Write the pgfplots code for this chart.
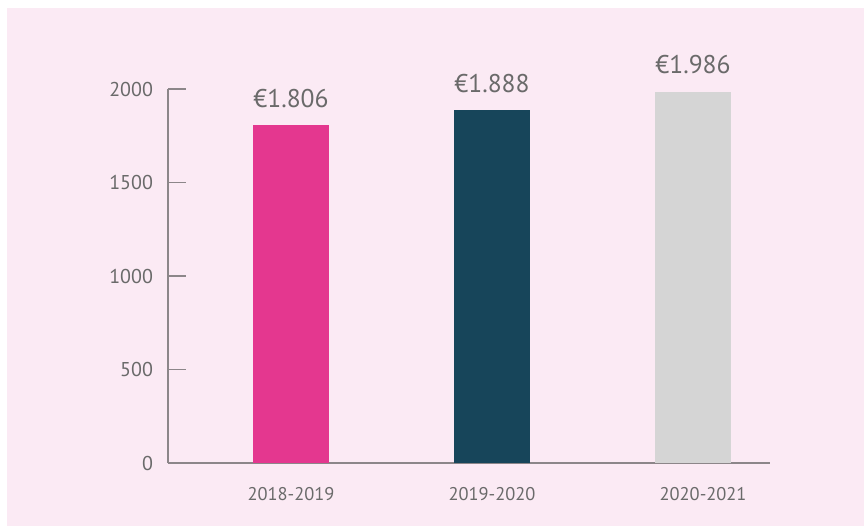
\documentclass[border=0pt]{standalone}
\usepackage{pgfplots}
\pgfplotsset{compat=1.18}
\usepackage{fontspec}
\setmainfont{PT Sans}
\definecolor{bg}{HTML}{FBEAF4}
\definecolor{barpink}{HTML}{E4378F}
\definecolor{barteal}{HTML}{17455A}
\definecolor{bargrey}{HTML}{D5D5D5}
\definecolor{axisgray}{HTML}{8C8689}
\definecolor{txtgray}{HTML}{6A6A6A}
\begin{document}
\begin{tikzpicture}
\useasboundingbox (-84pt,-31.5pt) rectangle (348pt,231.5pt);
\fill[white] (-84pt,-31.5pt) rectangle (348pt,231.5pt);
\fill[bg] (-80.5pt,-31.5pt) rectangle (348pt,227.5pt);
\begin{axis}[
  at={(0,0)}, anchor=south west,
  scale only axis, width=301pt, height=187pt,
  xmin=-0.612, xmax=2.383, ymin=0, ymax=2000,
  axis x line=bottom, axis y line=left,
  axis line style={-, draw=axisgray, line width=0.8pt},
  ytick={0,500,1000,1500,2000},
  xtick={0,1,2.05},
  xticklabels={2018-2019,2019-2020,2020-2021},
  x tick style={draw=none},
  y tick style={draw=axisgray, line width=0.8pt},
  tick align=inside, major tick length=9pt,
  /pgf/number format/assume math mode=true,
  /pgf/number format/1000 sep={},
  tick label style={text=txtgray},
  yticklabel style={font=\fontsize{10}{12}\selectfont, xshift=-4pt},
  xticklabel style={font=\fontsize{9.2}{11}\selectfont, yshift=0.5pt},
  ybar, bar width=38pt,
  point meta=explicit symbolic,
  nodes near coords,
  every node near coord/.append style={font=\fontsize{12.8}{15}\selectfont, text=txtgray, anchor=south, inner sep=0pt, yshift=8.5pt},
]
\addplot[fill=barpink, draw=none, bar shift=0pt] coordinates {(0,1806) [€1.806]};
\addplot[fill=barteal, draw=none, bar shift=0pt] coordinates {(1,1888) [€1.888]};
\addplot[fill=bargrey, draw=none, bar shift=0pt] coordinates {(2,1986) [€1.986]};
\end{axis}
\end{tikzpicture}
\end{document}
